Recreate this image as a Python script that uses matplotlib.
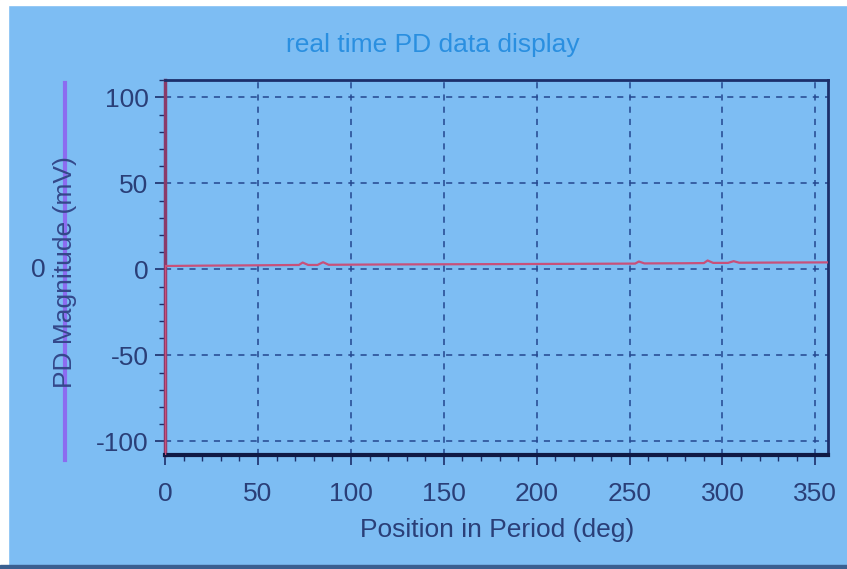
import numpy as np
import matplotlib
matplotlib.use("Agg")
import matplotlib.pyplot as plt
from matplotlib.ticker import MultipleLocator

# PD trace (deg, mV)
pos_deg = [0, 0, 20, 50, 72, 74, 77, 82, 85, 88, 120, 180, 230, 253, 255, 258,
           280, 290, 292, 295, 303, 306, 309, 330, 357]
pd_mag = [-108, 2.0, 2.2, 2.4, 2.6, 4.0, 2.6, 2.6, 4.2, 2.7, 2.9, 3.1, 3.3, 3.4,
          4.6, 3.5, 3.6, 3.7, 5.2, 3.8, 3.8, 4.8, 3.9, 4.0, 4.1]

xticks = [0, 50, 100, 150, 200, 250, 300, 350]
yticks = [-100, -50, 0, 50, 100]

bg = "#7dbdf3"
navy = "#1c2f6b"
txt = "#2a3f78"

plt.rcParams['font.family'] = ['Liberation Sans', 'DejaVu Sans']
plt.rcParams['axes.unicode_minus'] = False

fig = plt.figure(figsize=(8.47, 5.69), dpi=100, facecolor=bg)
ax = fig.add_axes([0.195, 0.200, 0.783, 0.659])
ax.set_facecolor(bg)

ax.plot(pos_deg, pd_mag, color="#c8507a", lw=1.6, zorder=3)

ax.set_xlim(0, 357)
ax.set_ylim(-108, 110)
ax.set_xticks(xticks)
ax.set_yticks(yticks)
ax.xaxis.set_minor_locator(MultipleLocator(10))
ax.yaxis.set_minor_locator(MultipleLocator(10))
ax.tick_params(which='major', direction='out', length=7, width=1.2, colors=navy,
               labelcolor=txt, labelsize=19, pad=5)
ax.tick_params(axis='x', which='major', pad=12)
ax.tick_params(which='minor', direction='out', length=4, width=1.0, colors=navy)

ax.grid(True, which='major', color="#24478f", linestyle=(0, (4, 4)), lw=1.1)

for side in ['top', 'right']:
    ax.spines[side].set_color(navy)
    ax.spines[side].set_linewidth(2.0)
ax.spines['bottom'].set_color("#0f1a45")
ax.spines['bottom'].set_linewidth(3.0)
ax.spines['left'].set_color("#8a3a6a")
ax.spines['left'].set_linewidth(2.5)

ax.set_xlabel("Position in Period (deg)", color=txt, fontsize=19, labelpad=9)

# title sits over the whole panel, not the axes
fig.text(433 / 847, 1 - 45 / 569, "real time PD data display", color="#2a8fe0",
         fontsize=19, ha='center', va='center')

# slider bar with the y label drawn across it, and its zero mark
fig.add_artist(plt.Line2D([65 / 847, 65 / 847], [1 - 83 / 569, 1 - 460 / 569],
                          color="#8c6cf0", lw=3, transform=fig.transFigure))
fig.text(65 / 847, 1 - 272 / 569, "PD Magnitude (mV)", color="#34488a", fontsize=19,
         rotation=90, ha='center', va='center')
fig.text(38 / 847, 1 - 270 / 569, "0", color=txt, fontsize=19, ha='center', va='center')

# white screen edge on the top and left, dark bezel at the bottom
fig.add_artist(plt.Rectangle((0, 1 - 5 / 569), 1, 5 / 569, color="white",
                             transform=fig.transFigure))
fig.add_artist(plt.Rectangle((0, 0), 8 / 847, 1, color="white",
                             transform=fig.transFigure))
fig.add_artist(plt.Rectangle((0, 0), 1, 4 / 569, color="#3a5f90",
                             transform=fig.transFigure))

fig.savefig("out.png", dpi=100, facecolor=bg)
